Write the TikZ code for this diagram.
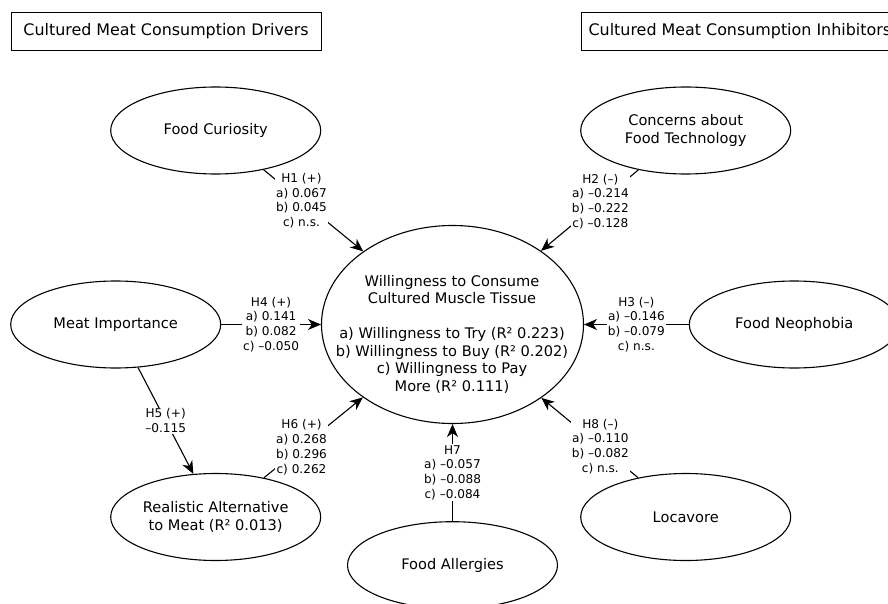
\documentclass[tikz,border=0pt]{standalone}
\usepackage{fontspec}
\setmainfont{DejaVu Sans}
\usetikzlibrary{shapes.geometric,arrows.meta}
\begin{document}
\begin{tikzpicture}[x=1pt,y=-1pt,
  every node/.style={font=\fontsize{14.6}{17.5}\selectfont},
  oval/.style={ellipse, draw, line width=1.1pt, minimum width=210, minimum height=87, inner sep=0pt, align=center},
  titlebox/.style={rectangle, draw, line width=0.8pt, minimum height=38, font=\fontsize{15.9}{19}\selectfont},
  lab/.style={fill=white, inner sep=1pt, align=center, font=\fontsize{12.1}{14.8}\selectfont},
  conn/.style={line width=1.1pt, -{Stealth[length=13pt,width=11pt,inset=4pt]}}]
\useasboundingbox (0,0) rectangle (888,604);
\begin{scope}
\clip (0,0) rectangle (888,604);
% title boxes
\node[titlebox, minimum width=310] (drv) at (166,31) {Cultured Meat Consumption Drivers};
\node[titlebox, anchor=west, inner xsep=7.5pt] (inh) at (580.7,31) {Cultured Meat Consumption Inhibitors};
% construct ellipses
\node[oval] (cur) at (215.7,130.5) {Food Curiosity};
\node[oval] (con) at (685.7,130.5) {Concerns about\\Food Technology};
\node[oval] (mea) at (115.7,324.5) {Meat Importance};
\node[oval] (neo) at (794.3,324.5) {Food Neophobia};
\node[oval] (rea) at (215.7,517) {Realistic Alternative\\to Meat (R² 0.013)};
\node[oval] (loc) at (685.7,517) {Locavore};
\node[oval] (all) at (452.5,565.2) {Food Allergies};
% central construct
\node[ellipse, draw, line width=1.1pt, minimum width=262, minimum height=198, inner sep=0pt] (cen) at (452.5,324.5) {};
\node[align=center] (centext) at (452,334) {Willingness to Consume\\Cultured Muscle Tissue\\[17.5pt]a) Willingness to Try (R² 0.223)\\b) Willingness to Buy (R² 0.202)\\c) Willingness to Pay\\More (R² 0.111)};
% hypotheses
\draw[conn] (cur) -- node[lab,pos=0.38] {H1 (+)\\a) 0.067\\b) 0.045\\c) n.s.} (cen);
\draw[conn] (con) -- node[lab,pos=0.39] {H2 (–)\\a) –0.214\\b) –0.222\\c) –0.128} (cen);
\draw[conn] (neo) -- node[lab] {H3 (–)\\a) –0.146\\b) –0.079\\c) n.s.} (cen);
\draw[conn] (mea) -- node[lab] {H4 (+)\\a) 0.141\\b) 0.082\\c) –0.050} (cen);
\draw[conn] (mea) -- node[lab] {H5 (+)\\–0.115} (rea);
\draw[conn] (rea) -- node[lab,pos=0.38] {H6 (+)\\a) 0.268\\b) 0.296\\c) 0.262} (cen);
\draw[conn] (all) -- node[lab] {H7\\a) –0.057\\b) –0.088\\c) –0.084} (cen);
\draw[conn] (loc) -- node[lab,pos=0.39] {H8 (–)\\a) –0.110\\b) –0.082\\c) n.s.} (cen);
\end{scope}
\end{tikzpicture}
\end{document}
